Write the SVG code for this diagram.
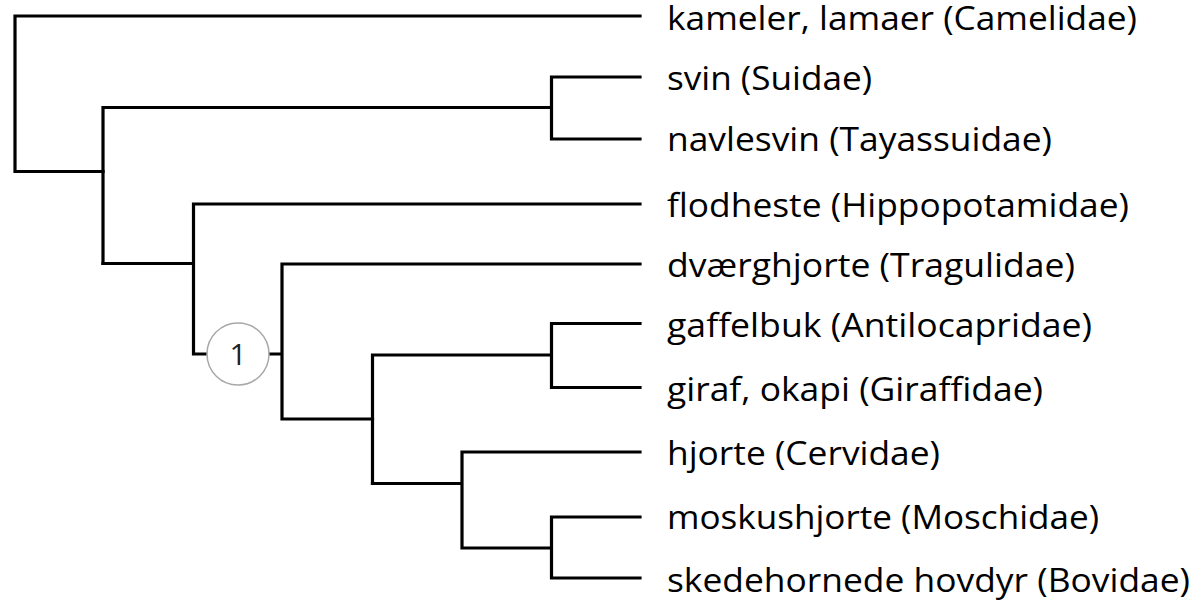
<svg xmlns="http://www.w3.org/2000/svg" width="1200" height="603" viewBox="0 0 1200 603">
<style>
.br{fill:none;stroke:#000;stroke-width:3.2;stroke-linejoin:miter;stroke-linecap:square}
.lbl{font-family:"Open Sans","Liberation Sans",sans-serif;font-size:32px;fill:#000}
.nd{fill:#fff;stroke:#a8a8a8;stroke-width:1.5}
.ndt{font-family:"Open Sans","Liberation Sans",sans-serif;font-size:30px;fill:#222;text-anchor:middle}
</style>
<rect width="1200" height="603" fill="#fff"/>
<g id="connectors">
<path class="br" d="M640,16 H15 V171.5 H103"/>
<path class="br" d="M103,263.5 V107.5 H551.5 V77 H640 M551.5,107.5 V139 H640"/>
<path class="br" d="M103,263.5 H193.5 V204 H640 M193.5,263.5 V354 H207"/>
<path class="br" d="M269,354 H282 V264 H640 M282,354 V419 H372.5"/>
<path class="br" d="M372.5,355 V483.5 M372.5,355 H551.5 V323.5 H640 M551.5,355 V387.5 H640"/>
<path class="br" d="M372.5,483.5 H462 V452 H640 M462,483.5 V548 H551.5 V517 H640 M551.5,548 V578 H640"/>
</g>
<g id="node-1">
<circle class="nd" cx="238" cy="354" r="31"/>
<text class="ndt" x="238" y="365">1</text>
</g>
<g id="leaf-camelidae"><text class="lbl" x="667" y="30" textLength="470" lengthAdjust="spacingAndGlyphs">kameler, lamaer (Camelidae)</text></g>
<g id="leaf-suidae"><text class="lbl" x="667" y="90" textLength="205" lengthAdjust="spacingAndGlyphs">svin (Suidae)</text></g>
<g id="leaf-tayassuidae"><text class="lbl" x="667" y="151" textLength="385" lengthAdjust="spacingAndGlyphs">navlesvin (Tayassuidae)</text></g>
<g id="leaf-hippopotamidae"><text class="lbl" x="667" y="217" textLength="462" lengthAdjust="spacingAndGlyphs">flodheste (Hippopotamidae)</text></g>
<g id="leaf-tragulidae"><text class="lbl" x="667" y="277" textLength="408" lengthAdjust="spacingAndGlyphs">dværghjorte (Tragulidae)</text></g>
<g id="leaf-antilocapridae"><text class="lbl" x="667" y="337" textLength="425" lengthAdjust="spacingAndGlyphs">gaffelbuk (Antilocapridae)</text></g>
<g id="leaf-giraffidae"><text class="lbl" x="667" y="401" textLength="376" lengthAdjust="spacingAndGlyphs">giraf, okapi (Giraffidae)</text></g>
<g id="leaf-cervidae"><text class="lbl" x="667" y="465" textLength="273" lengthAdjust="spacingAndGlyphs">hjorte (Cervidae)</text></g>
<g id="leaf-moschidae"><text class="lbl" x="667" y="529" textLength="432" lengthAdjust="spacingAndGlyphs">moskushjorte (Moschidae)</text></g>
<g id="leaf-bovidae"><text class="lbl" x="667" y="592" textLength="523" lengthAdjust="spacingAndGlyphs">skedehornede hovdyr (Bovidae)</text></g>
</svg>
